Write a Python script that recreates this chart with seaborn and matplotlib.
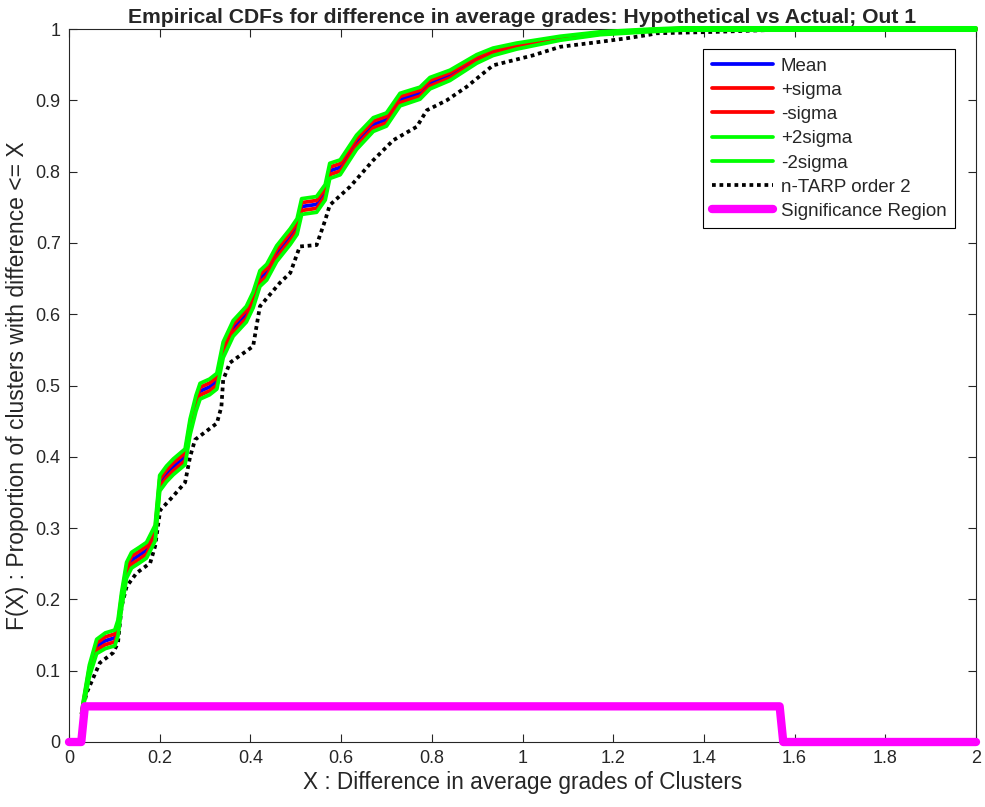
import numpy as np
import pandas as pd
import matplotlib
matplotlib.use("Agg")
import matplotlib.pyplot as plt
import seaborn as sns

# Mean empirical CDF
mean_x = [0.028, 0.032, 0.045, 0.061, 0.08, 0.101, 0.108, 0.116, 0.127, 0.138, 0.155, 0.171,
          0.19, 0.2, 0.215, 0.23, 0.256, 0.267, 0.28, 0.289, 0.31, 0.326, 0.34, 0.362, 0.391,
          0.406, 0.421, 0.436, 0.458, 0.488, 0.503, 0.513, 0.546, 0.565, 0.575, 0.598, 0.634,
          0.671, 0.7, 0.73, 0.774, 0.796, 0.84, 0.899, 0.935, 0.987, 1.083, 1.171, 1.28, 1.35, 2.0]
mean_y = [0.04, 0.055, 0.1, 0.134, 0.142, 0.146, 0.16, 0.199, 0.241, 0.255, 0.262, 0.269,
          0.293, 0.363, 0.376, 0.386, 0.4, 0.442, 0.475, 0.492, 0.498, 0.506, 0.55, 0.58, 0.6,
          0.62, 0.65, 0.659, 0.685, 0.709, 0.723, 0.751, 0.754, 0.771, 0.801, 0.806, 0.841,
          0.866, 0.873, 0.901, 0.91, 0.924, 0.935, 0.958, 0.968, 0.976, 0.987, 0.994, 0.998, 1.0, 1.0]
sigma = [0.0, 0.002, 0.004, 0.005, 0.0055, 0.0055, 0.0055, 0.0055, 0.0055, 0.0055, 0.0055, 0.0055,
         0.0055, 0.0055, 0.0055, 0.0055, 0.0055, 0.0055, 0.0055, 0.0055, 0.0055, 0.0055, 0.0055, 0.0055, 0.0055,
         0.0055, 0.0055, 0.0055, 0.0055, 0.0055, 0.0055, 0.0055, 0.0055, 0.0054, 0.0053, 0.0052, 0.005,
         0.0048, 0.0046, 0.0044, 0.0042, 0.004, 0.0036, 0.003, 0.0026, 0.0021, 0.0014, 0.001, 0.0009, 0.0008, 0.0008]

# n-TARP order 2 empirical CDF
ntarp_x = [0.028, 0.039, 0.068, 0.097, 0.108, 0.116, 0.127, 0.149, 0.179, 0.19, 0.201, 0.23,
           0.256, 0.267, 0.278, 0.326, 0.336, 0.34, 0.355, 0.406, 0.421, 0.465, 0.488, 0.509,
           0.546, 0.565, 0.575, 0.62, 0.671, 0.715, 0.767, 0.789, 0.833, 0.877, 0.935, 1.023,
           1.083, 1.171, 1.23, 1.28, 1.295, 1.428, 1.61, 2.0]
ntarp_y = [0.04, 0.069, 0.111, 0.125, 0.139, 0.19, 0.218, 0.237, 0.251, 0.275, 0.325, 0.345,
           0.364, 0.4, 0.424, 0.447, 0.47, 0.508, 0.532, 0.555, 0.611, 0.644, 0.658, 0.695,
           0.697, 0.732, 0.753, 0.779, 0.816, 0.844, 0.863, 0.886, 0.9, 0.919, 0.949, 0.963,
           0.975, 0.982, 0.987, 0.992, 0.994, 0.996, 1.0, 1.0]

# Significance region
sig_x = [0.0, 0.027, 0.035, 1.567, 1.575, 2.0]
sig_y = [0.0, 0.0, 0.05, 0.05, 0.0, 0.0]

xticks = [0, 0.2, 0.4, 0.6, 0.8, 1, 1.2, 1.4, 1.6, 1.8, 2]
xticklabels = ["0", "0.2", "0.4", "0.6", "0.8", "1", "1.2", "1.4", "1.6", "1.8", "2"]
yticks = [0, 0.1, 0.2, 0.3, 0.4, 0.5, 0.6, 0.7, 0.8, 0.9, 1]
yticklabels = ["0", "0.1", "0.2", "0.3", "0.4", "0.5", "0.6", "0.7", "0.8", "0.9", "1"]

sns.set_style("white")
plt.rcParams['font.family'] = ['Liberation Sans', 'DejaVu Sans']

mx = np.array(mean_x)
my = np.array(mean_y)
sg = np.array(sigma)

fig = plt.figure(figsize=(9.85, 8.07), dpi=100)
ax = fig.add_axes([69/985, 65/807, 907/985, 713/807])

gray = '#262626'
lw = 2.7
kw = dict(ax=ax, lw=lw, sort=False, estimator=None)
sns.lineplot(x=ntarp_x, y=ntarp_y, color='black', label='n-TARP order 2', zorder=1, **kw)
ax.lines[-1].set_linestyle((0, (1, 1.0)))
ax.lines[-1].set_clip_on(False)
sns.lineplot(x=mx, y=my, color='#0000ff', label='Mean', zorder=2, **kw)
sns.lineplot(x=mx, y=my + sg, color='#ff0000', label='+sigma', zorder=3, **kw)
sns.lineplot(x=mx, y=my - sg, color='#ff0000', label='-sigma', zorder=3, **kw)
sns.lineplot(x=mx, y=my + 2*sg, color='#00ff00', label='+2sigma', zorder=4, **kw)
sns.lineplot(x=mx, y=my - 2*sg, color='#00ff00', label='-2sigma', zorder=4, **kw)
for ln in ax.lines[1:]:
    ln.set_clip_on(False)
    ln.set_solid_joinstyle('round')
sns.lineplot(x=sig_x, y=sig_y, color='#ff00ff', label='Significance Region', zorder=5,
             ax=ax, lw=6, sort=False, estimator=None)
ax.lines[-1].set_clip_on(False)
ax.lines[-1].set_solid_joinstyle('round')

ax.set_xlim(0, 2)
ax.set_ylim(0, 1)
ax.set_xticks(xticks)
ax.set_xticklabels(xticklabels)
ax.set_yticks(yticks)
ax.set_yticklabels(yticklabels)
ax.tick_params(direction='in', length=6, width=0.8, colors=gray, labelsize=13,
               top=True, right=True, bottom=True, left=True, pad=6)
for s in ax.spines.values():
    s.set_color(gray)
    s.set_linewidth(0.8)
    s.set_visible(True)

ax.set_xlabel('X : Difference in average grades of Clusters', fontsize=16.3, color=gray, labelpad=3)
ax.set_ylabel('F(X) : Proportion of clusters with difference <= X', fontsize=16.5, color=gray, labelpad=5)
ax.set_title('Empirical CDFs for difference in average grades: Hypothetical vs Actual; Out 1',
             fontsize=15.2, fontweight='bold', pad=4)

handles, labels = ax.get_legend_handles_labels()
order = ['Mean', '+sigma', '-sigma', '+2sigma', '-2sigma', 'n-TARP order 2', 'Significance Region']
hmap = dict(zip(labels, handles))
leg = ax.legend([hmap[k] for k in order], order, loc='upper right', bbox_to_anchor=(0.977, 0.972),
                fontsize=13.5, frameon=True, fancybox=False, edgecolor='black', framealpha=1,
                handlelength=3.3, labelspacing=0.38, borderpad=0.45, handletextpad=0.4,
                borderaxespad=0)
leg.get_frame().set_linewidth(0.8)
leg.set_zorder(10)

fig.savefig('out.png', dpi=100)
